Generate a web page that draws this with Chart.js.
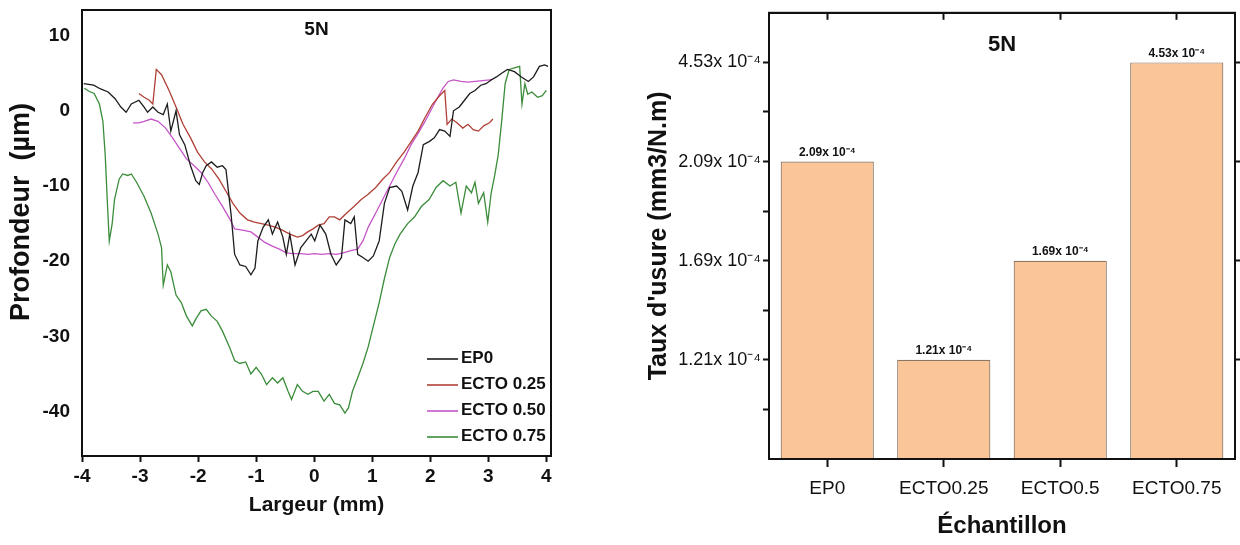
<!DOCTYPE html>
<html>
<head>
<meta charset="utf-8">
<title>5N - profil et taux d'usure</title>
<script src="https://cdn.jsdelivr.net/npm/chart.js@4.4.1/dist/chart.umd.min.js"></script>
<style>
  html, body { margin: 0; padding: 0; background: #fff; overflow: hidden; }
  #profile { position: absolute; left: 0; top: 0; }
  #wear { position: absolute; left: 620px; top: 0; }
</style>
</head>
<body>
<canvas id="profile" width="575" height="545"></canvas>
<canvas id="wear" width="620" height="545"></canvas>
<script>
const FONT = "'Liberation Sans', Arial, sans-serif";

// --- profile (left chart), [largeur mm, profondeur µm] ---
const seriesNames = ['EP0', 'ECTO 0.25', 'ECTO 0.50', 'ECTO 0.75'];
const seriesColors = ['#1c1c1c', '#b04036', '#c655c8', '#3a8c3a'];

const ep0 = [[-3.97,3.6],[-3.8,3.4],[-3.68,2.9],[-3.55,2.5],[-3.43,1.6],[-3.33,0.5],[-3.24,-0.2],[-3.15,0.9],[-3.02,1.4],[-2.93,0.5],[-2.87,-0.2],[-2.78,0.5],[-2.69,-0.2],[-2.6,-0.5],[-2.53,0.9],[-2.47,-2.7],[-2.38,0],[-2.32,-3.2],[-2.23,-4.5],[-2.13,-7.3],[-2.04,-9.3],[-1.98,-9.8],[-1.92,-8.2],[-1.86,-7.3],[-1.77,-6.8],[-1.67,-7.5],[-1.58,-7.3],[-1.52,-7.8],[-1.43,-13.9],[-1.37,-19.1],[-1.28,-20.5],[-1.18,-20.7],[-1.09,-21.8],[-1.02,-20.9],[-0.97,-17.3],[-0.88,-15.5],[-0.79,-14.5],[-0.72,-16.4],[-0.63,-14.8],[-0.54,-16.8],[-0.48,-19.1],[-0.42,-16.4],[-0.33,-20.5],[-0.23,-18.2],[-0.14,-17.3],[-0.05,-16.4],[0.01,-17.3],[0.1,-15.2],[0.2,-16.4],[0.29,-19.1],[0.38,-20.5],[0.47,-19.5],[0.53,-14.5],[0.63,-15],[0.69,-14.1],[0.75,-19.1],[0.84,-19.5],[0.93,-20],[1.02,-19.3],[1.12,-17.3],[1.21,-12.3],[1.3,-10.2],[1.42,-10],[1.51,-10.7],[1.61,-13.2],[1.7,-10],[1.79,-8.2],[1.88,-4.5],[1.98,-4.1],[2.07,-3.6],[2.16,-2.5],[2.25,-2.7],[2.34,-3.4],[2.4,0],[2.5,0.5],[2.59,1.4],[2.68,2.3],[2.77,2.7],[2.87,3.4],[2.96,3.6],[3.05,4.1],[3.14,4.5],[3.23,5],[3.33,5.5],[3.45,5.2],[3.57,4.5],[3.69,3.9],[3.78,4.5],[3.88,5.9],[3.97,6.1],[4.03,5.9]];

const ecto025 = [[-3.02,2.3],[-2.93,1.8],[-2.84,1.4],[-2.78,0.9],[-2.72,5.5],[-2.63,4.8],[-2.5,2.7],[-2.38,0.5],[-2.26,-1.8],[-2.13,-3.6],[-2.01,-5.5],[-1.89,-6.8],[-1.77,-7.7],[-1.64,-9.1],[-1.52,-10.7],[-1.4,-12.3],[-1.28,-13.6],[-1.15,-14.5],[-1.03,-14.8],[-0.91,-15],[-0.79,-15.2],[-0.66,-15.5],[-0.54,-15.9],[-0.42,-16.4],[-0.29,-16.8],[-0.2,-16.6],[-0.11,-16.1],[-0.02,-15.7],[0.07,-15.2],[0.17,-15],[0.26,-14.1],[0.35,-14.1],[0.44,-14.5],[0.56,-13.6],[0.69,-12.7],[0.81,-11.8],[0.93,-11.1],[1.06,-10.2],[1.18,-9.1],[1.3,-8.2],[1.42,-6.8],[1.55,-5.5],[1.67,-4.1],[1.79,-2.7],[1.91,-0.9],[2.04,0.9],[2.16,2.0],[2.25,2.7],[2.29,-1.8],[2.37,-1.1],[2.46,-1.6],[2.56,-2.3],[2.65,-1.8],[2.74,-2.5],[2.83,-2.7],[2.92,-2.0],[3.02,-1.6],[3.08,-1.1]];

const ecto050 = [[-3.12,-1.6],[-3.02,-1.6],[-2.93,-1.4],[-2.81,-1.1],[-2.69,-1.4],[-2.56,-2.3],[-2.44,-3.6],[-2.32,-5],[-2.2,-6.4],[-2.07,-7.3],[-1.95,-8.2],[-1.83,-9.5],[-1.71,-11.1],[-1.58,-12.7],[-1.46,-14.3],[-1.37,-15.7],[-1.21,-15.9],[-1.09,-16.1],[-0.97,-16.8],[-0.85,-17.5],[-0.72,-18],[-0.6,-18.4],[-0.48,-18.9],[-0.36,-19],[-0.23,-19],[-0.11,-19.1],[0.01,-19],[0.13,-19.1],[0.26,-19],[0.38,-19.1],[0.5,-18.9],[0.63,-18.6],[0.75,-18.4],[0.84,-17.3],[0.93,-15.5],[1.06,-13.6],[1.18,-11.8],[1.3,-10],[1.42,-8.2],[1.55,-6.4],[1.67,-4.5],[1.79,-3],[1.91,-1.4],[2.04,0.5],[2.13,1.8],[2.22,3],[2.31,3.9],[2.4,4.1],[2.53,3.9],[2.65,3.8],[2.77,3.9],[2.9,4.0],[3.02,4.1],[3.08,4.2]];

const ecto075 = [[-3.96,3.0],[-3.88,2.6],[-3.79,2.3],[-3.7,0.9],[-3.64,-1.4],[-3.6,-5.9],[-3.56,-12.7],[-3.53,-17.3],[-3.48,-15],[-3.44,-11.8],[-3.36,-9.1],[-3.3,-8.4],[-3.21,-8.6],[-3.15,-8.4],[-3.06,-9.5],[-2.93,-11.4],[-2.81,-13.6],[-2.69,-16.4],[-2.63,-18.2],[-2.6,-23.2],[-2.53,-20.5],[-2.47,-21.4],[-2.38,-24.5],[-2.29,-25.5],[-2.2,-27.3],[-2.1,-28.6],[-2.04,-27.7],[-1.95,-26.6],[-1.86,-26.4],[-1.77,-27.3],[-1.67,-28],[-1.58,-29.3],[-1.46,-31.4],[-1.37,-33.2],[-1.28,-33.6],[-1.18,-33.4],[-1.09,-35],[-1,-34.1],[-0.91,-35],[-0.82,-36.4],[-0.72,-35.5],[-0.63,-36.2],[-0.54,-35.5],[-0.45,-37.3],[-0.39,-38.4],[-0.29,-36.4],[-0.2,-37.3],[-0.11,-37.7],[-0.02,-37.3],[0.07,-37.3],[0.17,-38.6],[0.26,-37.7],[0.35,-38.9],[0.44,-39.1],[0.53,-40.2],[0.59,-39.5],[0.66,-37.3],[0.75,-35.5],[0.84,-33.6],[0.93,-31.4],[1.02,-28.6],[1.12,-25.5],[1.21,-22.3],[1.3,-19.5],[1.39,-17.7],[1.48,-16.4],[1.61,-15],[1.73,-14.1],[1.85,-12.7],[1.98,-11.8],[2.1,-10.2],[2.22,-9.3],[2.34,-10],[2.44,-9.5],[2.53,-13.6],[2.62,-10],[2.71,-10.9],[2.77,-9.5],[2.83,-12.3],[2.92,-10.9],[2.99,-14.8],[3.05,-10.9],[3.11,-8.6],[3.17,-5.9],[3.23,-1.4],[3.29,3.6],[3.36,5.5],[3.45,5.7],[3.54,5.9],[3.58,0.9],[3.63,3.6],[3.68,2.2],[3.75,2.5],[3.85,1.8],[3.93,2.0],[4.0,2.7]];

const profileXTicks = [-4, -3, -2, -1, 0, 1, 2, 3, 4];
const profileYTicks = [10, 0, -10, -20, -30, -40];

// --- wear rate (right chart) ---
const samples = ['EP0', 'ECTO0.25', 'ECTO0.5', 'ECTO0.75'];
const wearRate = [2.09e-4, 1.21e-4, 1.69e-4, 4.53e-4];
// the original axis is broken: these labels sit at even spacing
const wearTicks = [1.21e-4, 1.69e-4, 2.09e-4, 4.53e-4];

Chart.defaults.font.family = FONT;
Chart.defaults.color = '#111';
Chart.defaults.animation = false;

function fmtWear(v) {
  return (v * 1e4).toFixed(2) + 'x 10\u207B\u2074';
}

// linear scale whose break points (wearTicks) are equally spaced
class BreakScale extends Chart.LinearScale {
  toPos(v) {
    const b = [0].concat(wearTicks);
    for (let i = 1; i < b.length; i++) {
      if (v <= b[i] || i === b.length - 1) return i - 1 + (v - b[i - 1]) / (b[i] - b[i - 1]);
    }
    return 0;
  }
  getPixelForValue(v) {
    return this.getPixelForDecimal(this.toPos(v) / this.options.span);
  }
}
BreakScale.id = 'break';
BreakScale.defaults = {};
Chart.register(BreakScale);

const frame = {
  id: 'frame',
  afterDatasetsDraw(chart) {
    const { ctx, chartArea: a } = chart;
    ctx.save();
    ctx.strokeStyle = '#111';
    ctx.lineWidth = 2;
    ctx.strokeRect(a.left, a.top, a.right - a.left, a.bottom - a.top);
    ctx.restore();
  }
};

const innerTitle = {
  id: 'innerTitle',
  afterDraw(chart, args, opts) {
    const { ctx, chartArea: a } = chart;
    ctx.save();
    ctx.font = 'bold ' + opts.size + 'px ' + FONT;
    ctx.textAlign = 'center';
    ctx.textBaseline = 'middle';
    ctx.fillStyle = '#111';
    ctx.fillText(opts.text, (a.left + a.right) / 2, a.top + opts.dy);
    ctx.restore();
  }
};

// rotated y title, placed a bit above the axis middle like the original
const sideTitle = {
  id: 'sideTitle',
  afterDraw(chart, args, opts) {
    const { ctx } = chart;
    ctx.save();
    ctx.translate(opts.x, opts.y);
    ctx.rotate(-Math.PI / 2);
    ctx.font = 'bold ' + opts.size + 'px ' + FONT;
    ctx.textAlign = 'center';
    ctx.textBaseline = 'middle';
    ctx.fillStyle = '#111';
    ctx.fillText(opts.text, 0, 0);
    ctx.restore();
  }
};

const insideLegend = {
  id: 'insideLegend',
  afterDatasetsDraw(chart) {
    const { ctx, chartArea: a } = chart;
    ctx.save();
    ctx.font = 'bold 17px ' + FONT;
    ctx.textBaseline = 'middle';
    ctx.fillStyle = '#111';
    chart.data.datasets.forEach((ds, i) => {
      const x = a.right - 90;
      const y = a.bottom - 98 + i * 26;
      ctx.strokeStyle = ds.borderColor;
      ctx.lineWidth = 1.6;
      ctx.beginPath();
      ctx.moveTo(x - 34, y + 1);
      ctx.lineTo(x - 3, y + 1);
      ctx.stroke();
      ctx.fillText(ds.label, x, y);
    });
    ctx.restore();
  }
};

const barValues = {
  id: 'barValues',
  afterDatasetsDraw(chart) {
    const { ctx } = chart;
    const meta = chart.getDatasetMeta(0);
    ctx.save();
    ctx.font = 'bold 12px ' + FONT;
    ctx.textAlign = 'center';
    ctx.textBaseline = 'bottom';
    ctx.fillStyle = '#111';
    meta.data.forEach((bar, i) => {
      ctx.fillText(fmtWear(chart.data.datasets[0].data[i]), bar.x, bar.y - 3);
    });
    ctx.restore();
  }
};

const profileSeries = [ep0, ecto025, ecto050, ecto075];

new Chart(document.getElementById('profile'), {
  type: 'line',
  data: {
    datasets: profileSeries.map((pts, i) => ({
      label: seriesNames[i],
      data: pts.map(p => ({ x: p[0], y: p[1] })),
      borderColor: seriesColors[i],
      borderWidth: 1.3,
      pointRadius: 0,
      tension: 0,
      fill: false,
    })),
  },
  options: {
    responsive: false,
    devicePixelRatio: 1,
    layout: { padding: { top: 10, right: 24, left: 0, bottom: 0 } },
    plugins: {
      legend: { display: false },
      tooltip: { enabled: false },
      innerTitle: { text: '5N', size: 19, dy: 20 },
      sideTitle: { text: 'Profondeur  (µm)', size: 27, x: 22, y: 212 },
    },
    scales: {
      x: {
        type: 'linear',
        min: -4,
        max: 4.08,
        afterBuildTicks: (s) => { s.ticks = profileXTicks.map(v => ({ value: v })); },
        afterFit: (s) => { s.height = 89; },
        grid: { drawOnChartArea: false, tickLength: 6, tickWidth: 2, tickColor: '#111' },
        border: { color: '#111', width: 2 },
        ticks: { font: { size: 19, weight: 'bold' }, padding: 3, maxRotation: 0 },
        title: { display: true, text: 'Largeur (mm)', font: { size: 21, weight: 'bold' }, padding: { top: 0, bottom: 27 } },
      },
      y: {
        type: 'linear',
        min: -45.9,
        max: 13.4,
        afterBuildTicks: (s) => { s.ticks = profileYTicks.map(v => ({ value: v })); },
        afterFit: (s) => { s.width = 82; s.paddingTop = 0; s.paddingBottom = 0; },
        grid: { drawOnChartArea: false, drawTicks: false },
        border: { color: '#111', width: 2 },
        ticks: { font: { size: 19, weight: 'bold' }, padding: 12 },
      },
    },
  },
  plugins: [frame, innerTitle, sideTitle, insideLegend],
});

new Chart(document.getElementById('wear'), {
  type: 'bar',
  data: {
    labels: samples,
    datasets: [{
      label: "Taux d'usure",
      data: wearRate,
      backgroundColor: 'rgb(250,198,152)',
      borderColor: '#8c7563',
      borderWidth: 1.2,
      barPercentage: 0.8,
      categoryPercentage: 1,
    }],
  },
  options: {
    responsive: false,
    devicePixelRatio: 1,
    layout: { padding: 0 },
    plugins: {
      legend: { display: false },
      tooltip: { enabled: false },
      innerTitle: { text: '5N', size: 22, dy: 32 },
    },
    scales: {
      x: {
        type: 'category',
        position: 'bottom',
        afterFit: (s) => { s.height = 86; },
        grid: { offset: false, drawOnChartArea: false, tickLength: 8, tickWidth: 2, tickColor: '#111' },
        border: { color: '#111', width: 2 },
        ticks: { font: { size: 19 }, padding: 10, maxRotation: 0 },
        title: { display: true, text: 'Échantillon', font: { size: 24, weight: 'bold' }, padding: { top: 0, bottom: 4 } },
      },
      xTop: {
        type: 'category',
        position: 'top',
        offset: true,
        afterFit: (s) => { s.height = 11; },
        grid: { offset: false, drawOnChartArea: false, tickLength: -7, tickWidth: 2, tickColor: '#111' },
        border: { color: '#111', width: 2 },
        ticks: { display: false },
      },
      y: {
        type: 'break',
        position: 'left',
        min: 0,
        max: 4.6e-4,
        span: 4.5,
        afterBuildTicks: (s) => {
          const t = [];
          let prev = 0;
          wearTicks.forEach(v => { t.push({ value: (prev + v) / 2 }); t.push({ value: v }); prev = v; });
          s.ticks = t;
        },
        afterFit: (s) => { s.width = 149; },
        grid: { drawOnChartArea: false, tickLength: 6, tickWidth: 2, tickColor: '#111' },
        border: { color: '#111', width: 2 },
        ticks: {
          font: { size: 18 },
          padding: 2,
          callback: (v) => wearTicks.includes(v) ? fmtWear(v) : '',
        },
        title: { display: true, text: "Taux d'usure (mm3/N.m)", font: { size: 25, weight: 'bold' }, padding: { top: 24, bottom: 0 } },
      },
      y2: {
        type: 'break',
        position: 'right',
        min: 0,
        max: 4.6e-4,
        span: 4.5,
        afterBuildTicks: (s) => { s.ticks = wearTicks.map(v => ({ value: v })); },
        afterFit: (s) => { s.width = 5; },
        grid: { drawOnChartArea: false, tickLength: 5, tickWidth: 2, tickColor: '#111' },
        border: { color: '#111', width: 2 },
        ticks: { display: false },
      },
    },
  },
  plugins: [frame, innerTitle, barValues],
});
</script>
</body>
</html>
